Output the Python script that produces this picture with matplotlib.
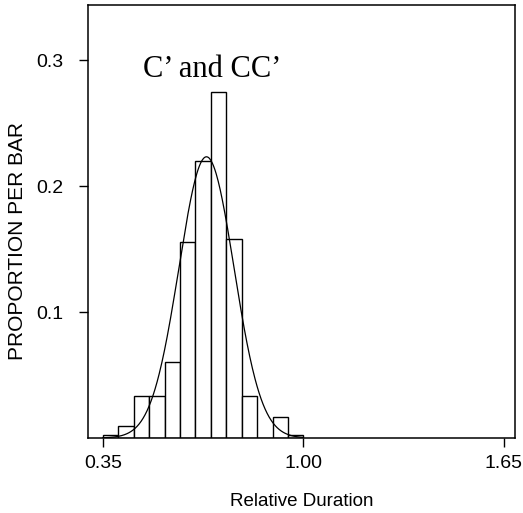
import numpy as np
import matplotlib
matplotlib.use("Agg")
import matplotlib.pyplot as plt

# histogram of relative durations, bins of 0.05 from 0.35 to 1.00
bin_edges = [0.35, 0.40, 0.45, 0.50, 0.55, 0.60, 0.65, 0.70,
             0.75, 0.80, 0.85, 0.90, 0.95, 1.00]
proportions = [0.002, 0.0093, 0.0332, 0.0332, 0.060, 0.156, 0.220,
               0.275, 0.158, 0.0332, 0.0, 0.0165, 0.002]

xticks = [0.35, 1.00, 1.65]
xticklabels = ["0.35", "1.00", "1.65"]
yticks = [0.1, 0.2, 0.3]
yticklabels = ["0.1", "0.2", "0.3"]

plt.rcParams['font.family'] = ['Liberation Sans', 'DejaVu Sans']

fig = plt.figure(figsize=(5.23, 5.13), dpi=100)
ax = fig.add_axes([0.1683, 0.1462, 0.8164, 0.844])

edges = np.array(bin_edges)
props = np.array(proportions)
width = edges[1] - edges[0]
ax.bar(edges[:-1], props, width=width, align='edge',
       facecolor='white', edgecolor='black', linewidth=1.0)

# normal curve fitted to the histogram (same scale as proportion per bar)
centers = (edges[:-1] + edges[1:]) / 2
mu = np.sum(centers * props) / np.sum(props)
sd = np.sqrt(np.sum(props * (centers - mu) ** 2) / np.sum(props))
xs = np.linspace(edges[0], edges[-1], 300)
ys = np.sum(props) * width / (sd * np.sqrt(2 * np.pi)) * np.exp(-0.5 * ((xs - mu) / sd) ** 2)
ax.plot(xs, ys, color='black', linewidth=0.9)

ax.set_xlim(0.302, 1.686)
ax.set_ylim(0, 0.344)
ax.set_xticks(xticks)
ax.set_xticklabels(xticklabels)
ax.set_yticks(yticks)
ax.set_yticklabels(yticklabels)
ax.tick_params(axis='x', direction='out', length=6.5, width=1.0, pad=6, labelsize=14)
ax.tick_params(axis='y', direction='out', length=6.5, width=1.0, pad=11, labelsize=14)
for s in ax.spines.values():
    s.set_linewidth(1.1)

ax.set_xlabel("Relative Duration", fontsize=13.5, labelpad=15)
ax.set_ylabel("PROPORTION PER BAR", fontsize=15)
ax.yaxis.set_label_coords(-0.143, 0.455)

ax.text(0.129, 0.834, "C\u2019 and CC\u2019", transform=ax.transAxes,
        fontsize=22, family='Liberation Serif', ha='left', va='baseline')

fig.savefig("out.png", dpi=100)
